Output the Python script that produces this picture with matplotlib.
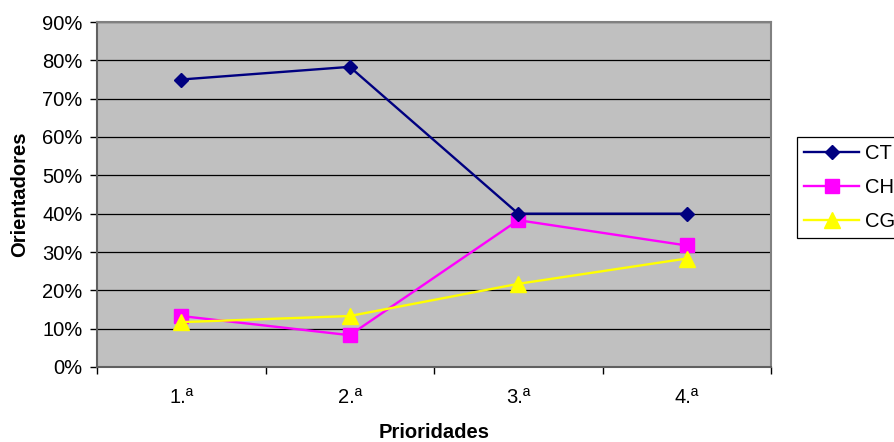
import matplotlib
matplotlib.use('Agg')
from matplotlib import pyplot as plt
from matplotlib.ticker import FixedLocator, PercentFormatter

plt.rcParams['font.family'] = ['Liberation Sans', 'DejaVu Sans']

prioridades = ['1.ª', '2.ª', '3.ª', '4.ª']
ct = [75.0, 78.3, 40.0, 40.0]
ch = [13.3, 8.3, 38.3, 31.7]
cg = [11.7, 13.3, 21.7, 28.3]

fs = 14.5

fig = plt.figure(figsize=(8.94, 4.42), dpi=100)
ax = fig.add_axes([97 / 894, 1 - 367 / 442, (771 - 97) / 894, (367 - 22) / 442])
ax.set_facecolor('#C0C0C0')

x = range(len(prioridades))
ax.plot(x, ct, '-D', color='#000080', lw=1.7, ms=7.5, label='CT', zorder=4)
ax.plot(x, ch, '-s', color='#FF00FF', lw=1.7, ms=10, label='CH', zorder=3)
ax.plot(x, cg, '-^', color='#FFFF00', lw=1.7, ms=11, label='CG', zorder=5)

ax.set_xlim(-0.5, 3.5)
ax.set_ylim(0, 90)
ax.set_yticks(range(0, 91, 10))
ax.yaxis.set_major_formatter(PercentFormatter(decimals=0))
ax.yaxis.grid(True, color='black', lw=0.9)
ax.set_axisbelow(True)

ax.set_xticks(list(x))
ax.set_xticklabels(prioridades)
ax.xaxis.set_minor_locator(FixedLocator([-0.5, 0.5, 1.5, 2.5, 3.5]))
ax.tick_params(axis='x', which='major', length=0, pad=15, labelsize=fs)
ax.tick_params(axis='x', which='minor', length=5, width=1, color='black')
ax.tick_params(axis='y', length=5, width=1, labelsize=fs, pad=5.5)

for s in ax.spines.values():
    s.set_color('#808080')
    s.set_linewidth(1.5)
ax.spines['left'].set_color('#606060')
ax.spines['bottom'].set_color('#606060')

ax.set_xlabel('Prioridades', fontsize=fs, fontweight='bold', labelpad=11.5)
ax.set_ylabel('Orientadores', fontsize=fs, fontweight='bold', labelpad=9)

leg = fig.legend(loc='upper left', bbox_to_anchor=(797 / 894, 1 - 137 / 442),
                 fontsize=fs, handlelength=2.75, handletextpad=0.3,
                 labelspacing=0.75, borderpad=0.35, borderaxespad=0,
                 fancybox=False, edgecolor='black', framealpha=1)
leg.get_frame().set_linewidth(0.9)

fig.savefig('out.png', dpi=100)
